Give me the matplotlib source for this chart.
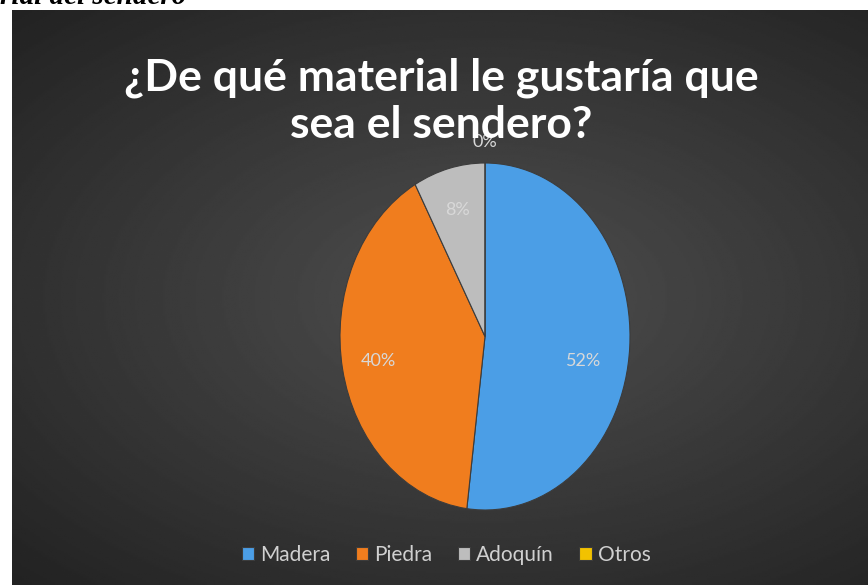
import numpy as np
import matplotlib.pyplot as plt

categories = ['Madera', 'Piedra', 'Adoquín', 'Otros']
percent = [52, 40, 8, 0]
colors = ['#4b9ee6', '#f07d1e', '#bdbdbd', '#f2c200']
title = '¿De qué material le gustaría que\nsea el sendero?'

fig = plt.figure(figsize=(8.68, 5.85), dpi=100)
fig.patch.set_facecolor('white')

# fondo oscuro con degradado radial
bg = fig.add_axes([12 / 868, 0, 1 - 12 / 868, 575 / 585])
yy, xx = np.mgrid[0:1:300j, 0:1:450j]
r = np.sqrt(((xx - 0.55) / 0.85) ** 2 + ((yy - 0.5) / 0.75) ** 2)
grad = np.clip(0.31 - 0.19 * r, 0.13, 0.31)
bg.imshow(grad, cmap='gray', vmin=0, vmax=1, aspect='auto', extent=[0, 1, 0, 1])
bg.axis('off')

# texto recortado del documento
fig.text(0.0, 1 + 3 / 585, 'rial del sendero', ha='left', va='center',
         fontsize=21, style='italic', fontweight='bold', family='Liberation Serif', color='black')

# pastel (elíptico, como en el original)
ax = fig.add_axes([340 / 868, 75 / 585, 290 / 868, 347 / 585])
wedges, texts, autotexts = ax.pie(percent, colors=colors, startangle=90, counterclock=False,
                                  autopct='%d%%', pctdistance=0.75,
                                  wedgeprops=dict(edgecolor='#3c3c3c', linewidth=0.8),
                                  textprops=dict(color='#d8d8d8', fontsize=13, family='Lato'))
autotexts[0].set_position((0.68, -0.14))
autotexts[3].set_position((0, 1.12))
ax.set_aspect('auto')
ax.set_xlim(-1, 1)
ax.set_ylim(-1, 1)
ax.axis('off')

fig.text(0.5 + 7 / 868, 1 - 101 / 585, title, ha='center', va='center', color='white',
         fontsize=32, fontweight='bold', family='Lato', linespacing=1.22)

leg = fig.legend(wedges, categories, loc='center', bbox_to_anchor=(0.514, 30 / 585), ncol=4,
                 frameon=False, handlelength=0.6, handleheight=0.6, handletextpad=0.3,
                 columnspacing=1.2, prop=dict(family='Lato', size=15))
for t in leg.get_texts():
    t.set_color('#d0d0d0')

fig.savefig('out.png', dpi=100)
